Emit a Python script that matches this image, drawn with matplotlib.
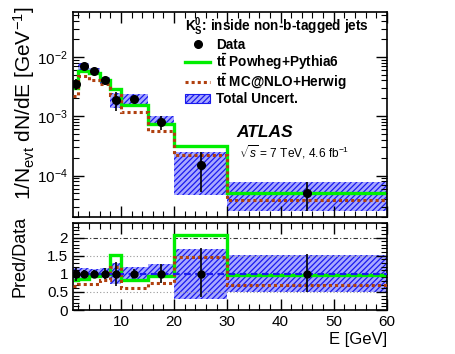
import numpy as np
import matplotlib
matplotlib.use("Agg")
import matplotlib.pyplot as plt
from matplotlib.lines import Line2D
from matplotlib.patches import Patch
from matplotlib.ticker import MultipleLocator, LogLocator, NullFormatter, FixedLocator

plt.rcParams['font.family'] = ['Liberation Sans', 'DejaVu Sans']
plt.rcParams['mathtext.fontset'] = 'custom'
plt.rcParams['mathtext.rm'] = 'Liberation Sans'
plt.rcParams['mathtext.it'] = 'Liberation Sans:italic'
plt.rcParams['mathtext.bf'] = 'Liberation Sans:bold'
plt.rcParams['hatch.linewidth'] = 0.9

# ---- data ----
bin_edges = [1, 2, 4, 6, 8, 10, 15, 20, 30, 60]
data_vals = [3.5e-3, 6.9e-3, 5.7e-3, 4.0e-3, 1.9e-3, 1.95e-3, 7.9e-4, 1.49e-4, 5.1e-5]
powheg_vals = [3.0e-3, 5.8e-3, 5.3e-3, 4.1e-3, 2.9e-3, 1.56e-3, 7.5e-4, 3.1e-4, 5.0e-5]
mcatnlo_vals = [2.15e-3, 4.8e-3, 4.1e-3, 3.5e-3, 2.24e-3, 1.16e-3, 5.7e-4, 2.25e-4, 3.8e-5]
# relative total uncertainty band (lo, hi) and data error bars (lo, hi)
unc_lo = [0.85, 0.87, 0.90, 0.88, 0.72, 0.82, 0.93, 0.31, 0.50]
unc_hi = [1.18, 1.15, 1.12, 1.15, 1.30, 1.19, 1.27, 1.69, 1.51]
err_lo = [0.80, 0.90, 0.90, 0.85, 0.65, 0.88, 0.75, 0.35, 0.50]
err_hi = [1.20, 1.10, 1.10, 1.15, 1.32, 1.12, 1.27, 1.70, 1.55]
# ratio Pred/Data
ratio_powheg = [0.84, 0.86, 0.93, 1.0, 1.53, 0.82, 0.93, 2.07, 0.96]
ratio_mcatnlo = [0.65, 0.72, 0.72, 0.82, 1.18, 0.60, 0.75, 1.47, 0.68]

edges = np.array(bin_edges, dtype=float)
centers = 0.5 * (edges[:-1] + edges[1:])
data = np.array(data_vals)
ulo = np.array(unc_lo); uhi = np.array(unc_hi)
elo = np.array(err_lo); ehi = np.array(err_hi)

GREEN = '#00ee00'
RED = '#b0400f'
BLUE = '#1a1aee'
BAND_FC = '#a8a8ff'

fig = plt.figure(figsize=(4.56, 3.54), dpi=100)
L, R = 73/456, 387/456
ax = fig.add_axes([L, 1-217/354, R-L, (217-12)/354])
axr = fig.add_axes([L, 1-310/354, R-L, (310-223)/354])

def style(a):
    a.tick_params(which='both', direction='in', top=True, right=True, labelsize=11)
    a.tick_params(which='major', length=8, width=1)
    a.tick_params(which='minor', length=4, width=0.8)
    for s in a.spines.values():
        s.set_linewidth(1.2)

# ---- main panel ----
ax.stairs(data * uhi, edges, baseline=data * ulo, fill=True, facecolor=BAND_FC,
          edgecolor=BLUE, hatch='//////', linewidth=0, zorder=1)
ax.stairs(powheg_vals, edges, baseline=None, color=GREEN, lw=2.4, zorder=2)
ax.stairs(mcatnlo_vals, edges, baseline=None, color=RED, lw=2.2, ls=(0, (1, 1)), zorder=3)
ax.errorbar(centers, data, yerr=[data - data*elo, data*ehi - data], fmt='o', color='black',
            ms=5.5, lw=1.2, capsize=0, zorder=5)
ax.set_yscale('log')
ax.set_xlim(1, 60)
ax.set_ylim(2e-5, 0.057)
ax.xaxis.set_major_locator(MultipleLocator(10))
ax.xaxis.set_minor_locator(MultipleLocator(2))
ax.yaxis.set_major_locator(LogLocator(base=10, numticks=10))
ax.yaxis.set_minor_locator(LogLocator(base=10, subs=np.arange(2, 10), numticks=20))
ax.yaxis.set_minor_formatter(NullFormatter())
style(ax)
ax.tick_params(axis='x', labelbottom=False)
ax.set_ylabel(r'1/N$_{\mathrm{evt}}$ dN/dE [GeV$^{\mathrm{-1}}$]', fontsize=15)
ax.yaxis.set_label_coords(-0.115, 0.555)

handles = [
    Line2D([], [], marker='o', color='black', ms=5.5, lw=1.2, linestyle='none'),
    Line2D([], [], color=GREEN, lw=2.4),
    Line2D([], [], color=RED, lw=2.2, ls=(0, (1, 1))),
    Patch(facecolor=BAND_FC, edgecolor=BLUE, hatch='//////', lw=0.8),
]
labels = ['Data', r'$\mathbf{t\bar{t}}$ Powheg+Pythia6', r'$\mathbf{t\bar{t}}$ MC@NLO+Herwig', 'Total Uncert.']
leg = ax.legend(handles, labels, loc='upper left', bbox_to_anchor=(0.358, 0.984),
                frameon=False, fontsize=9.8, handlelength=1.8, handletextpad=0.45,
                labelspacing=0.0, borderpad=0, borderaxespad=0,
                title=r'K$^{\mathbf{0}}_{\mathbf{S}}$: inside non-b-tagged jets',
                title_fontproperties={'size': 9.8, 'weight': 'bold'}, alignment='left')
for t in leg.get_texts():
    t.set_fontweight('bold')

ax.text(0.52, 0.41, 'ATLAS', transform=ax.transAxes, fontsize=12.5,
        fontweight='bold', fontstyle='italic', va='center', ha='left')
ax.text(0.53, 0.315, r'$\sqrt{s}$ = 7 TeV, 4.6 fb$^{\mathrm{-1}}$', transform=ax.transAxes,
        fontsize=8.6, va='center', ha='left')

# ---- ratio panel ----
axr.stairs(uhi, edges, baseline=ulo, fill=True, facecolor=BAND_FC,
           edgecolor=BLUE, hatch='//////', linewidth=0, zorder=1)
for yv, st, c in [(0.5, (0, (1, 2)), '#999999'), (1.5, (0, (1, 2)), '#999999'), (2.0, (0, (4, 2, 1, 2)), '#333333')]:
    axr.axhline(yv, color=c, lw=0.8, ls=st, zorder=1.5)
axr.stairs(ratio_powheg, edges, baseline=None, color=GREEN, lw=2.4, zorder=2)
axr.stairs(ratio_mcatnlo, edges, baseline=None, color=RED, lw=2.2, ls=(0, (1, 1)), zorder=3)
axr.axhline(1.0, color=BLUE, lw=1.6, ls=(0, (3, 2)), zorder=4)
ones = np.ones_like(data)
axr.errorbar(centers, ones, yerr=[ones - elo, ehi - ones], fmt='o', color='black',
             ms=5, lw=1.2, capsize=0, zorder=5)
axr.set_xlim(1, 60)
axr.set_ylim(0, 2.4)
axr.xaxis.set_major_locator(FixedLocator([10, 20, 30, 40, 50, 60]))
axr.xaxis.set_minor_locator(MultipleLocator(2))
axr.yaxis.set_major_locator(FixedLocator([0, 0.5, 1, 1.5, 2]))
axr.yaxis.set_minor_locator(MultipleLocator(0.1))
axr.set_yticklabels(['0', '0.5', '1', '1.5', '2'])
style(axr)
axr.set_ylabel('Pred/Data', fontsize=13)
axr.yaxis.set_label_coords(-0.143, 0.62)
axr.set_xlabel('E [GeV]', fontsize=12, loc='right', labelpad=2)

fig.savefig('out.png', dpi=100)
